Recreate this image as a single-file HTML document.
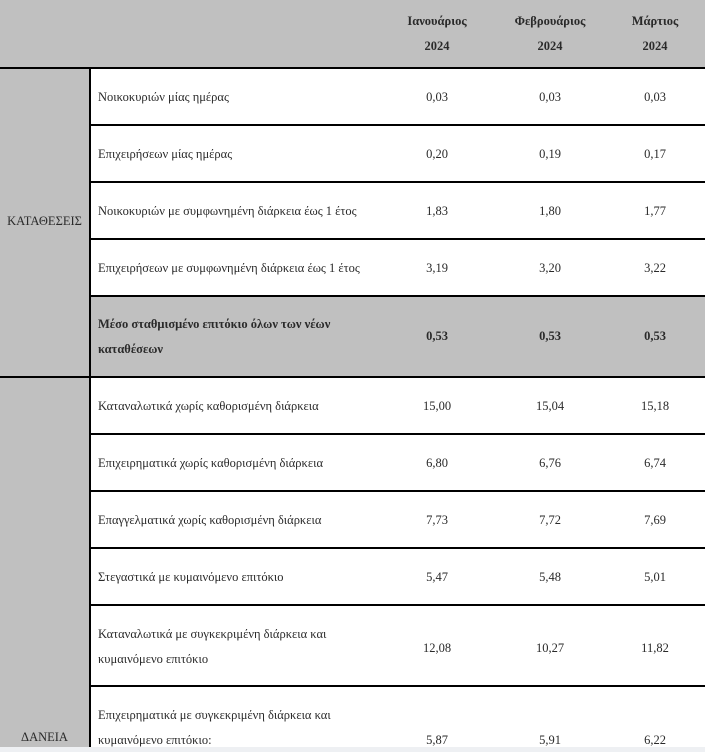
<!DOCTYPE html>
<html><head><meta charset="utf-8"><style>
body{margin:0;width:705px;height:752px;background:#fff;overflow:hidden;position:relative;font-family:"Liberation Serif",serif;font-size:12.5px;color:#2a2a2a}
.a{position:absolute}
.h{background:#000;height:1.5px}
.v{position:absolute;text-align:center;width:80px}
.l{position:absolute;left:98px;line-height:25px}
b{font-weight:bold}
</style></head><body>
<div class="a" style="left:0;top:0;width:705px;height:67px;background:#c0c0c0"></div>
<div class="a" style="left:0;top:67px;width:89px;height:685px;background:#c0c0c0"></div>
<div class="a" style="left:90px;top:296px;width:615px;height:80px;background:#c0c0c0"></div>
<div class="a" style="left:0;top:747px;width:705px;height:5px;background:#eef0f3"></div>
<div class="a" style="left:89px;top:67px;width:1.5px;height:680px;background:#000"></div>
<div class="a h" style="left:0;top:67px;width:705px"></div>
<div class="a h" style="left:89px;top:124px;width:616px"></div>
<div class="a h" style="left:89px;top:181px;width:616px"></div>
<div class="a h" style="left:89px;top:238px;width:616px"></div>
<div class="a h" style="left:89px;top:295px;width:616px"></div>
<div class="a h" style="left:0;top:376px;width:705px"></div>
<div class="a h" style="left:89px;top:433px;width:616px"></div>
<div class="a h" style="left:89px;top:490px;width:616px"></div>
<div class="a h" style="left:89px;top:547px;width:616px"></div>
<div class="a h" style="left:89px;top:604px;width:616px"></div>
<div class="a h" style="left:89px;top:685px;width:616px"></div>

<div class="v" style="left:397px;top:9px;line-height:25px"><b>Ιανουάριος<br>2024</b></div>
<div class="v" style="left:510px;top:9px;line-height:25px"><b>Φεβρουάριος<br>2024</b></div>
<div class="v" style="left:615px;top:9px;line-height:25px"><b>Μάρτιος<br>2024</b></div>

<div class="a" style="left:0;width:89px;text-align:center;top:214px">ΚΑΤΑΘΕΣΕΙΣ</div>
<div class="a" style="left:0;width:89px;text-align:center;top:730px">ΔΑΝΕΙΑ</div>

<div class="l" style="top:85px">Νοικοκυριών μίας ημέρας</div>
<div class="l" style="top:142px">Επιχειρήσεων μίας ημέρας</div>
<div class="l" style="top:199px">Νοικοκυριών με συμφωνημένη διάρκεια έως 1 έτος</div>
<div class="l" style="top:256px">Επιχειρήσεων με συμφωνημένη διάρκεια έως 1 έτος</div>
<div class="l" style="top:312px"><b>Μέσο σταθμισμένο επιτόκιο όλων των νέων<br>καταθέσεων</b></div>
<div class="l" style="top:394px">Καταναλωτικά χωρίς καθορισμένη διάρκεια</div>
<div class="l" style="top:451px">Επιχειρηματικά χωρίς καθορισμένη διάρκεια</div>
<div class="l" style="top:508px">Επαγγελματικά χωρίς καθορισμένη διάρκεια</div>
<div class="l" style="top:565px">Στεγαστικά με κυμαινόμενο επιτόκιο</div>
<div class="l" style="top:622px">Καταναλωτικά με συγκεκριμένη διάρκεια και<br>κυμαινόμενο επιτόκιο</div>
<div class="l" style="top:703px">Επιχειρηματικά με συγκεκριμένη διάρκεια και<br>κυμαινόμενο επιτόκιο:</div>

<div class="a" style="top:85px;line-height:25px;left:0;width:705px">
<span class="v" style="left:397px">0,03</span><span class="v" style="left:510px">0,03</span><span class="v" style="left:615px">0,03</span></div>
<div class="a" style="top:142px;line-height:25px;left:0;width:705px">
<span class="v" style="left:397px">0,20</span><span class="v" style="left:510px">0,19</span><span class="v" style="left:615px">0,17</span></div>
<div class="a" style="top:199px;line-height:25px;left:0;width:705px">
<span class="v" style="left:397px">1,83</span><span class="v" style="left:510px">1,80</span><span class="v" style="left:615px">1,77</span></div>
<div class="a" style="top:256px;line-height:25px;left:0;width:705px">
<span class="v" style="left:397px">3,19</span><span class="v" style="left:510px">3,20</span><span class="v" style="left:615px">3,22</span></div>
<div class="a" style="top:324px;line-height:25px;left:0;width:705px;font-weight:bold">
<span class="v" style="left:397px">0,53</span><span class="v" style="left:510px">0,53</span><span class="v" style="left:615px">0,53</span></div>
<div class="a" style="top:394px;line-height:25px;left:0;width:705px">
<span class="v" style="left:397px">15,00</span><span class="v" style="left:510px">15,04</span><span class="v" style="left:615px">15,18</span></div>
<div class="a" style="top:451px;line-height:25px;left:0;width:705px">
<span class="v" style="left:397px">6,80</span><span class="v" style="left:510px">6,76</span><span class="v" style="left:615px">6,74</span></div>
<div class="a" style="top:508px;line-height:25px;left:0;width:705px">
<span class="v" style="left:397px">7,73</span><span class="v" style="left:510px">7,72</span><span class="v" style="left:615px">7,69</span></div>
<div class="a" style="top:565px;line-height:25px;left:0;width:705px">
<span class="v" style="left:397px">5,47</span><span class="v" style="left:510px">5,48</span><span class="v" style="left:615px">5,01</span></div>
<div class="a" style="top:636px;line-height:25px;left:0;width:705px">
<span class="v" style="left:397px">12,08</span><span class="v" style="left:510px">10,27</span><span class="v" style="left:615px">11,82</span></div>
<div class="a" style="top:728px;line-height:25px;left:0;width:705px">
<span class="v" style="left:397px">5,87</span><span class="v" style="left:510px">5,91</span><span class="v" style="left:615px">6,22</span></div>
</body></html>
